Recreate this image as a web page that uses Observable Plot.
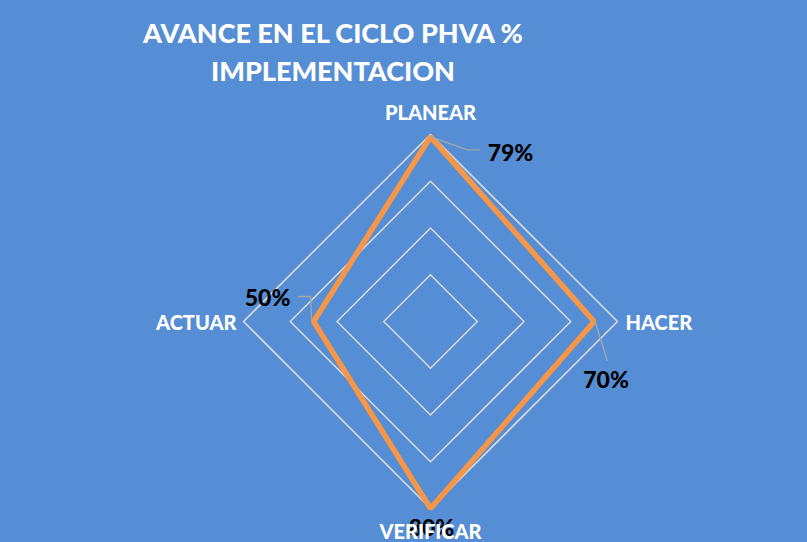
<!DOCTYPE html>
<html><head><meta charset="utf-8">
<script src="https://cdn.jsdelivr.net/npm/d3@7"></script>
<script src="https://cdn.jsdelivr.net/npm/@observablehq/plot@0.6"></script>
<style>
html,body{margin:0;padding:0;background:#558ED5;}
#wrap{position:relative;width:807px;height:542px;overflow:hidden;background:#558ED5;font-family:Lato,"Open Sans",sans-serif;}
#title{position:absolute;left:0;top:14px;width:666px;text-align:center;color:#fff;font-weight:900;font-size:27px;line-height:38px;z-index:2;}
#chart{position:absolute;left:0;top:0;}
</style>
</head><body>
<div id="wrap">
  <div id="title">AVANCE EN EL CICLO PHVA %<br>IMPLEMENTACION</div>
  <div id="chart"></div>
</div>
<script>
const categories = ["PLANEAR", "HACER", "VERIFICAR", "ACTUAR"];
const values = [0.79, 0.70, 0.80, 0.50];
const valueLabels = ["79%", "70%", "80%", "50%"];
const ringLevels = [0.2, 0.4, 0.6, 0.8];

const maxR = 0.8;
const radius = 187;           // pixels for maxR
const cx = 430, cy = 321;
const k = maxR / radius;      // data units per pixel

function pos(i, r) {
  const a = i * Math.PI / 2;
  return {x: r * Math.sin(a), y: r * Math.cos(a)};
}

const rings = ringLevels.flatMap(level =>
  categories.map((c, i) => ({level, ...pos(i, level)})));

const series = categories.map((c, i) => ({cat: c, value: values[i], label: valueLabels[i], ...pos(i, values[i])}));

const catPts = categories.map((c, i) => ({cat: c, ...pos(i, maxR)}));

// label offsets (pixels) relative to data point, with leader polyline
const labelOffsets = {
  "PLANEAR":   {dx: 80, dy: 17, leader: [[0,0],[37,13],[49,13]]},
  "HACER":     {dx: 12, dy: 59, leader: [[1,0],[13,39]]},
  "VERIFICAR": {dx: 1,  dy: 20, leader: null},
  "ACTUAR":    {dx: -46, dy: -23, leader: [[-2,-1],[-3,-25],[-15,-25]]}
};

const valueText = series.map(d => {
  const o = labelOffsets[d.cat];
  return {...d, lx: d.x + o.dx * k, ly: d.y - o.dy * k};
});

const leaders = series.flatMap(d => {
  const o = labelOffsets[d.cat];
  if (!o.leader) return [];
  return o.leader.map(([px, py]) => ({cat: d.cat, x: d.x + px * k, y: d.y - py * k}));
});

const font = "Lato, 'Open Sans', sans-serif";
const catStyle = {fill: "white", fontWeight: 900, fontSize: 20};

const plot = Plot.plot({
  width: 807,
  height: 542,
  margin: 0,
  x: {domain: [-maxR, maxR], range: [cx - radius, cx + radius], axis: null},
  y: {domain: [-maxR, maxR], range: [cy + radius, cy - radius], axis: null},
  style: {background: "transparent", fontFamily: font, overflow: "visible"},
  marks: [
    Plot.line(rings, {x: "x", y: "y", z: "level", curve: "linear-closed", stroke: "#D9D9D9", strokeWidth: 1.6}),
    Plot.line(series, {x: "x", y: "y", curve: "linear-closed", stroke: "#F79646", strokeWidth: 5.5, strokeLinejoin: "miter"}),
    Plot.line(leaders, {x: "x", y: "y", z: "cat", stroke: "#A6A6A6", strokeWidth: 1.3}),
    Plot.text(catPts.filter(d => d.cat === "PLANEAR"), {x: "x", y: "y", text: "cat", dy: -21, ...catStyle}),
    Plot.text(catPts.filter(d => d.cat === "HACER"), {x: "x", y: "y", text: "cat", dx: 8, dy: 2, textAnchor: "start", ...catStyle}),
    Plot.text(catPts.filter(d => d.cat === "ACTUAR"), {x: "x", y: "y", text: "cat", dx: -7, dy: 2, textAnchor: "end", ...catStyle}),
    Plot.text(valueText, {x: "lx", y: "ly", text: "label", fill: "black", fontWeight: 900, fontSize: 23}),
    Plot.text(catPts.filter(d => d.cat === "VERIFICAR"), {x: "x", y: "y", text: "cat", dy: 24, ...catStyle})
  ]
});
document.getElementById("chart").appendChild(plot);
</script>
</body></html>
